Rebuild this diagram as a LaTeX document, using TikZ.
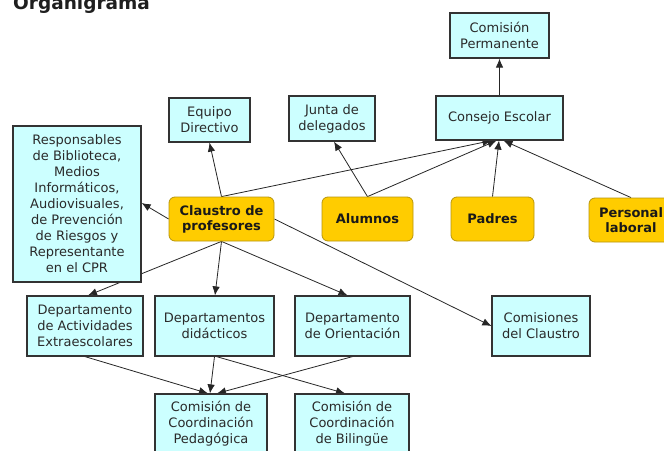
\documentclass[tikz,border=0pt]{standalone}
\usepackage{fontspec}
\setmainfont{DejaVu Sans}
\usetikzlibrary{arrows.meta,backgrounds}
\definecolor{boxfill}{HTML}{CCFFFF}
\definecolor{boxline}{HTML}{333333}
\definecolor{gold}{HTML}{FFCC00}
\definecolor{goldline}{HTML}{B8960C}
\definecolor{txt}{HTML}{2A2A2A}
\begin{document}
\begin{tikzpicture}[x=1pt,y=-1pt,
  cbox/.style={draw=boxline, line width=1.2pt, fill=boxfill, align=center, inner sep=0pt, text=txt, font=\fontsize{13}{16}\selectfont},
  gbox/.style={draw=goldline, line width=0.8pt, fill=gold, rounded corners=6pt, align=center, inner sep=0pt, text=black!90, font=\bfseries\fontsize{13}{15}\selectfont},
  conn/.style={draw=black!85, line width=0.8pt, -{Latex[length=9pt,width=7.5pt]}}]
\useasboundingbox (0,0) rectangle (664,450);
\clip (0,0) rectangle (664,450);

\node[anchor=base west, inner sep=0pt, text=black!88, font=\bfseries\fontsize{18.5}{20}\selectfont] (title) at (13,9.5) {Organigrama};

% top row
\node[cbox, minimum width=99pt, minimum height=45pt] (perm) at (499.5,35.5) {Comisión\\Permanente};
\node[cbox, minimum width=81pt, minimum height=44pt] (equipo) at (209.5,120) {Equipo\\Directivo};
\node[cbox, minimum width=86pt, minimum height=45pt] (junta) at (332,118.5) {Junta de\\delegados};
\node[cbox, minimum width=127pt, minimum height=44pt] (consejo) at (499.5,118) {Consejo Escolar};
\node[cbox, minimum width=128pt, minimum height=156pt] (resp) at (77,204) {Responsables\\de Biblioteca,\\Medios\\Informáticos,\\Audiovisuales,\\de Prevención\\de Riesgos y\\Representante\\en el CPR};

% gold row
\node[gbox, minimum width=105pt, minimum height=44pt] (claustro) at (221.5,219) {Claustro de\\profesores};
\node[gbox, minimum width=91pt, minimum height=44pt] (alumnos) at (367.5,219) {Alumnos};
\node[gbox, minimum width=83pt, minimum height=44pt] (padres) at (492.5,219) {Padres};
\node[gbox, minimum width=84pt, minimum height=44pt] (personal) at (631,220) {Personal\\laboral};

% departments row
\node[cbox, minimum width=116pt, minimum height=60pt] (extra) at (85,326) {Departamento\\de Actividades\\Extraescolares};
\node[cbox, minimum width=119pt, minimum height=60pt] (didact) at (214.5,326) {Departamentos\\didácticos};
\node[cbox, minimum width=115pt, minimum height=60pt] (orient) at (352.5,326) {Departamento\\de Orientación};
\node[cbox, minimum width=98pt, minimum height=60pt] (comclaus) at (541,326) {Comisiones\\del Claustro};

% bottom row
\node[cbox, minimum width=112pt, minimum height=60pt] (pedag) at (211,424) {Comisión de\\Coordinación\\Pedagógica};
\node[cbox, minimum width=114pt, minimum height=60pt] (biling) at (352,424) {Comisión de\\Coordinación\\de Bilingüe};

\begin{pgfonlayer}{background}
\fill[white] (0,0) rectangle (664,450);
\draw[conn] (claustro.north) -- (equipo.south);
\draw[conn] (claustro.north) -- ([xshift=-8pt]consejo.south);
\draw[conn] (claustro.west) -- ([yshift=1pt]resp.east);
\draw[conn] (claustro.south) -- ([xshift=3pt]extra.north);
\draw[conn] (claustro.south) -- ([xshift=0.5pt]didact.north);
\draw[conn] (claustro.south) -- ([xshift=-5pt]orient.north);
\draw[conn] (claustro.east) -- (comclaus.west);
\draw[conn] (alumnos.north) -- ([xshift=2pt]junta.south);
\draw[conn] (alumnos.north) -- ([xshift=-3pt]consejo.south);
\draw[conn] (padres.north) -- ([xshift=-0.5pt]consejo.south);
\draw[conn] (personal.north) -- ([xshift=4pt]consejo.south);
\draw[conn] (consejo.north) -- (perm.south);
\draw[conn] (extra.south) -- ([xshift=-3pt]pedag.north);
\draw[conn] (didact.south) -- ([xshift=-1pt]pedag.north);
\draw[conn] (orient.south) -- ([xshift=6pt]pedag.north);
\draw[conn] ([xshift=2pt]didact.south) -- ([xshift=-7pt]biling.north);
\end{pgfonlayer}
\end{tikzpicture}
\end{document}
